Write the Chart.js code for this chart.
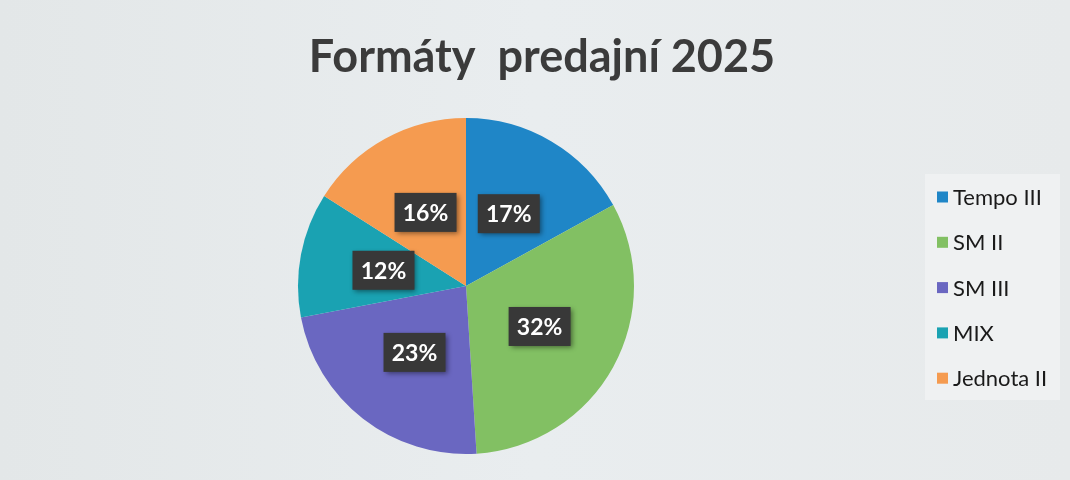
<!DOCTYPE html>
<html>
<head>
<meta charset="utf-8">
<script src="https://cdn.jsdelivr.net/npm/chart.js@4"></script>
<style>
  html, body { margin: 0; padding: 0; background: #e6eaec; }
  #wrap { width: 1070px; height: 480px; }
</style>
</head>
<body>
<div id="wrap"><canvas id="pieChart" width="1070" height="480"></canvas></div>
<script>
const categories = ["Tempo III", "SM II", "SM III", "MIX", "Jednota II"];
const shares = [17, 32, 23, 12, 16];
const colors = ["#1f86c7", "#82c063", "#6a67c1", "#1aa2b2", "#f59b50"];
const titleText = "Formáty  predajní 2025";

/* background, title and legend drawn by hand so they sit where the original has them */
const framePlugin = {
  id: "frame",
  beforeDraw(chart) {
    const ctx = chart.ctx;
    ctx.save();
    const g = ctx.createLinearGradient(0, 0, chart.width, 0);
    g.addColorStop(0, "#e3e7e8");
    g.addColorStop(0.5, "#e9edef");
    g.addColorStop(1, "#e7eaeb");
    ctx.fillStyle = g;
    ctx.fillRect(0, 0, chart.width, chart.height);

    // title
    ctx.fillStyle = "#3b3b3b";
    ctx.font = "bold 45px Lato";
    ctx.textAlign = "center";
    ctx.textBaseline = "alphabetic";
    ctx.fillText(titleText, 542, 72);

    // legend panel
    ctx.fillStyle = "#eff1f2";
    ctx.fillRect(925, 174, 135, 226);
    ctx.font = "22px Lato";
    ctx.textAlign = "left";
    ctx.textBaseline = "middle";
    categories.forEach((c, i) => {
      const y = 197 + i * 45.3;
      ctx.fillStyle = colors[i];
      ctx.fillRect(937, y - 5.5, 11, 11);
      ctx.fillStyle = "#1a1a1a";
      ctx.fillText(c, 953, y + 1);
    });
    ctx.restore();
  }
};

/* percentage labels in dark boxes */
const labelPlugin = {
  id: "pctLabels",
  afterDatasetsDraw(chart) {
    const ctx = chart.ctx;
    const meta = chart.getDatasetMeta(0);
    ctx.save();
    ctx.font = "bold 23px Lato";
    ctx.textAlign = "center";
    ctx.textBaseline = "middle";
    meta.data.forEach((arc, i) => {
      const p = arc.tooltipPosition();
      const txt = shares[i] + "%";
      const w = 62, h = 39;
      ctx.shadowColor = "rgba(0,0,0,0.45)";
      ctx.shadowBlur = 5;
      ctx.shadowOffsetX = 2;
      ctx.shadowOffsetY = 2;
      ctx.fillStyle = "#383838";
      ctx.fillRect(p.x - w / 2, p.y - h / 2, w, h);
      ctx.shadowColor = "transparent";
      ctx.fillStyle = "#ffffff";
      ctx.fillText(txt, p.x, p.y + 1);
    });
    ctx.restore();
  }
};

new Chart(document.getElementById("pieChart"), {
  type: "pie",
  data: {
    labels: categories,
    datasets: [{
      data: shares,
      backgroundColor: colors,
      borderWidth: 0
    }]
  },
  plugins: [framePlugin, labelPlugin],
  options: {
    responsive: false,
    animation: false,
    layout: { padding: { top: 118, bottom: 26, left: 12, right: 150 } },
    plugins: {
      tooltip: { enabled: false },
      title: { display: false },
      legend: { display: false }
    }
  }
});
</script>
</body>
</html>
